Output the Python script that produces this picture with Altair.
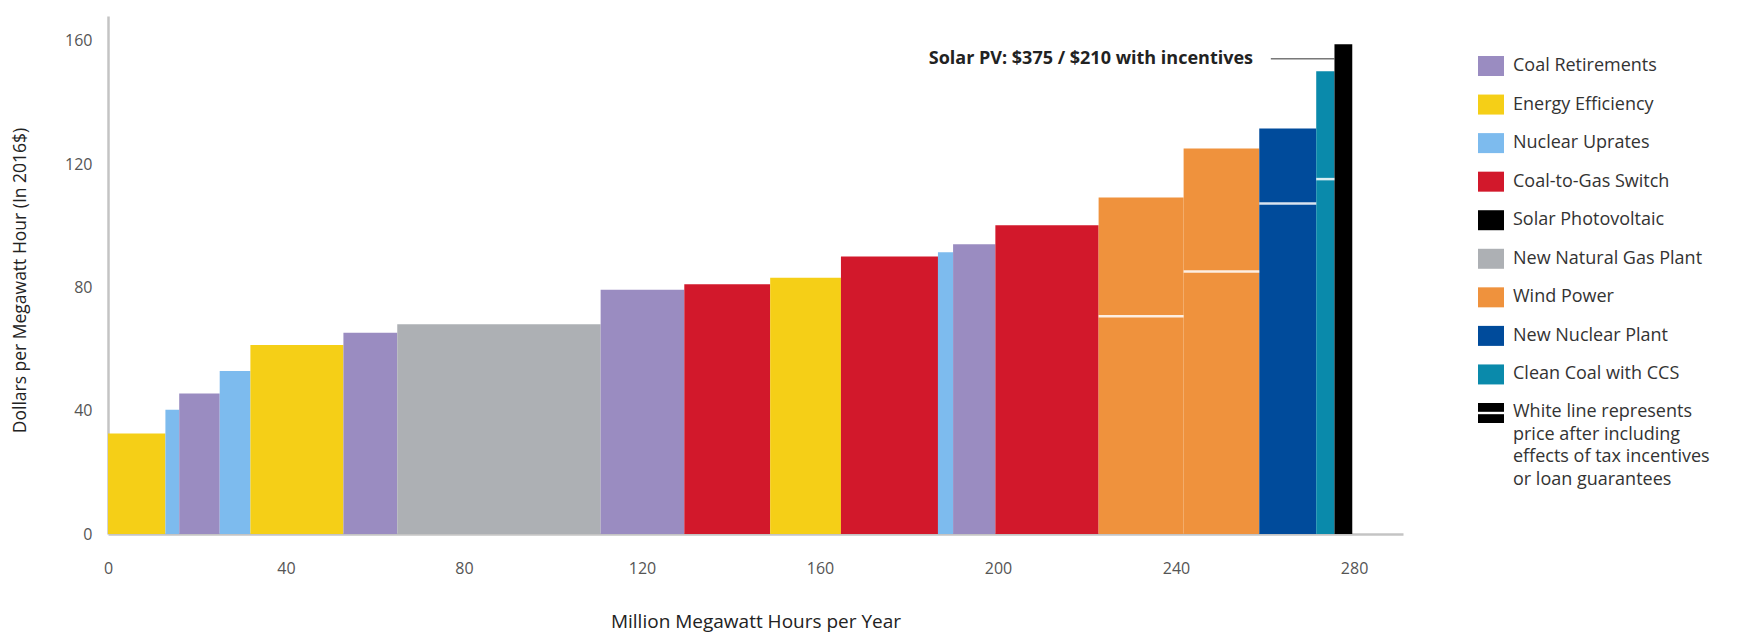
import altair as alt
import pandas as pd

# ---- data ----
categories = [
    "Energy Efficiency", "Nuclear Uprates", "Coal Retirements", "Nuclear Uprates",
    "Energy Efficiency", "Coal Retirements", "New Natural Gas Plant", "Coal Retirements",
    "Coal-to-Gas Switch", "Energy Efficiency", "Coal-to-Gas Switch", "Nuclear Uprates",
    "Coal Retirements", "Coal-to-Gas Switch", "Wind Power", "Wind Power",
    "New Nuclear Plant", "Clean Coal with CCS", "Solar Photovoltaic",
]
edges = [0, 12.9, 16.0, 25.1, 32.0, 52.9, 65.0, 110.7, 129.5, 148.8, 164.7,
         186.5, 189.9, 199.4, 222.6, 241.7, 258.7, 271.5, 275.6, 279.6]
costs = [32.6, 40.3, 45.6, 52.9, 61.3, 65.3, 68.0, 79.2, 81.0, 83.1, 90.0,
         91.4, 94.0, 100.1, 109.1, 125.0, 131.5, 150.1, 158.8]
incentive_costs = [None] * 14 + [70.6, 85.1, 107.2, 115.1, None]

legend_names = ["Coal Retirements", "Energy Efficiency", "Nuclear Uprates",
                "Coal-to-Gas Switch", "Solar Photovoltaic", "New Natural Gas Plant",
                "Wind Power", "New Nuclear Plant", "Clean Coal with CCS"]
legend_colors = ["#9a8cc1", "#f5cf17", "#7dbbee", "#d2182b", "#000000",
                 "#adb0b4", "#ef923d", "#004b9b", "#0a8aab"]
note_lines = ["White line represents", "price after including",
              "effects of tax incentives", "or loan guarantees"]

x_ticks = [0, 40, 80, 120, 160, 200, 240, 280]
y_ticks = [0, 40, 80, 120, 160]

solar_label = "Solar PV: $375 / $210 with incentives"
solar_label_x = 257.3
solar_label_y = 154.1
solar_leader_x = [261.3, 275.6]

FONT = "Open Sans"

# ---- tables ----
bars = pd.DataFrame({
    "cat": categories,
    "x0": edges[:-1],
    "x1": edges[1:],
    "cost": costs,
    "incentive": incentive_costs,
})
bars["base"] = 0
lines = bars.dropna(subset=["incentive"])

legend_df = pd.DataFrame({"cat": legend_names, "lidx": list(range(len(legend_names)))})
note_df = pd.DataFrame({"lidx": [len(legend_names)], "text": ["\n".join(note_lines)]})
annot_df = pd.DataFrame({"x": [solar_label_x], "y": [solar_label_y], "label": [solar_label]})
leader_df = pd.DataFrame({"x": [solar_leader_x[0]], "x2": [solar_leader_x[1]], "y": [solar_label_y]})

xscale = alt.Scale(domain=[0, 291], nice=False, zero=False)
yscale = alt.Scale(domain=[0, 168], nice=False)
cscale = alt.Scale(domain=legend_names, range=legend_colors)

rects = alt.Chart(bars).mark_rect(strokeWidth=0).encode(
    x=alt.X("x0:Q", scale=xscale,
            axis=alt.Axis(values=x_ticks, title="Million Megawatt Hours per Year",
                          labelPadding=26, titleY=93, titleBaseline="alphabetic",
                          titleFontSize=19, labelFontSize=16, labelFlush=False)),
    x2="x1:Q",
    y=alt.Y("cost:Q", scale=yscale,
            axis=alt.Axis(values=y_ticks, title="Dollars per Megawatt Hour (In 2016$)",
                          labelPadding=16, titleX=-88, titleY=264,
                          titleBaseline="middle", titleFontSize=17.5, labelFontSize=16)),
    y2="base:Q",
    color=alt.Color("cat:N", scale=cscale, legend=None),
)

white_lines = alt.Chart(lines).mark_rule(color="white", strokeWidth=2.5, opacity=0.85).encode(
    x=alt.X("x0:Q", scale=xscale),
    x2="x1:Q",
    y=alt.Y("incentive:Q", scale=yscale),
)

annot = alt.Chart(annot_df).mark_text(
    align="right", baseline="middle", font=FONT, fontSize=18, fontWeight="bold",
    color="#222"
).encode(
    x=alt.X("x:Q", scale=xscale),
    y=alt.Y("y:Q", scale=yscale),
    text="label:N",
)

leader = alt.Chart(leader_df).mark_rule(color="#333", strokeWidth=1).encode(
    x=alt.X("x:Q", scale=xscale),
    x2="x2:Q",
    y=alt.Y("y:Q", scale=yscale),
)

main = alt.layer(rects, white_lines, leader, annot)

lscale = alt.Scale(domain=[0, 9], range=[50, 397])
RECT_PATH = "M-1.3,-1L1.3,-1L1.3,1L-1.3,1Z"
LINE_PATH = "M-1.3,-0.12L1.3,-0.12L1.3,0.12L-1.3,0.12Z"

swatches = alt.Chart(legend_df).mark_point(
    shape=RECT_PATH, size=400, filled=True, opacity=1, strokeWidth=0
).encode(
    x=alt.value(1383),
    y=alt.Y("lidx:Q", scale=lscale, axis=None),
    color=alt.Color("cat:N", scale=cscale, legend=None),
)

legend_text = alt.Chart(legend_df).mark_text(
    align="left", baseline="middle", font=FONT, fontSize=18, color="#333"
).encode(
    x=alt.value(1405),
    y=alt.Y("lidx:Q", scale=lscale, axis=None),
    text="cat:N",
)

note_sym = alt.Chart(note_df).mark_point(
    shape=RECT_PATH, size=400, filled=True, opacity=1, strokeWidth=0, color="black"
).encode(
    x=alt.value(1383),
    y=alt.Y("lidx:Q", scale=lscale, axis=None),
)

note_line = alt.Chart(note_df).mark_point(
    shape=LINE_PATH, size=400, filled=True, opacity=1, strokeWidth=0, color="white"
).encode(
    x=alt.value(1383),
    y=alt.Y("lidx:Q", scale=lscale, axis=None),
)

note_text = alt.Chart(note_df).mark_text(
    align="left", baseline="top", font=FONT, fontSize=18, color="#333",
    lineBreak="\n", lineHeight=22.5, dy=-10
).encode(
    x=alt.value(1405),
    y=alt.Y("lidx:Q", scale=lscale, axis=None),
    text="text:N",
)

legend = alt.layer(swatches, legend_text, note_sym, note_line, note_text)

chart = alt.layer(main, legend).resolve_scale(y="independent").properties(
    width=1295,
    height=518,
    background="white",
    autosize=alt.AutoSizeParams(type="none"),
    padding={"left": 100, "top": 8, "right": 337, "bottom": 98},
).configure_view(stroke=None).configure_axis(
    grid=False, ticks=False, tickSize=0,
    domainColor="#c4c4c4", domainWidth=2.5,
    labelFont=FONT, labelColor="#555",
    titleFont=FONT, titleColor="#222", titleFontWeight="normal",
)

chart.save("out.html", embed_options={"renderer": "svg", "actions": False})
